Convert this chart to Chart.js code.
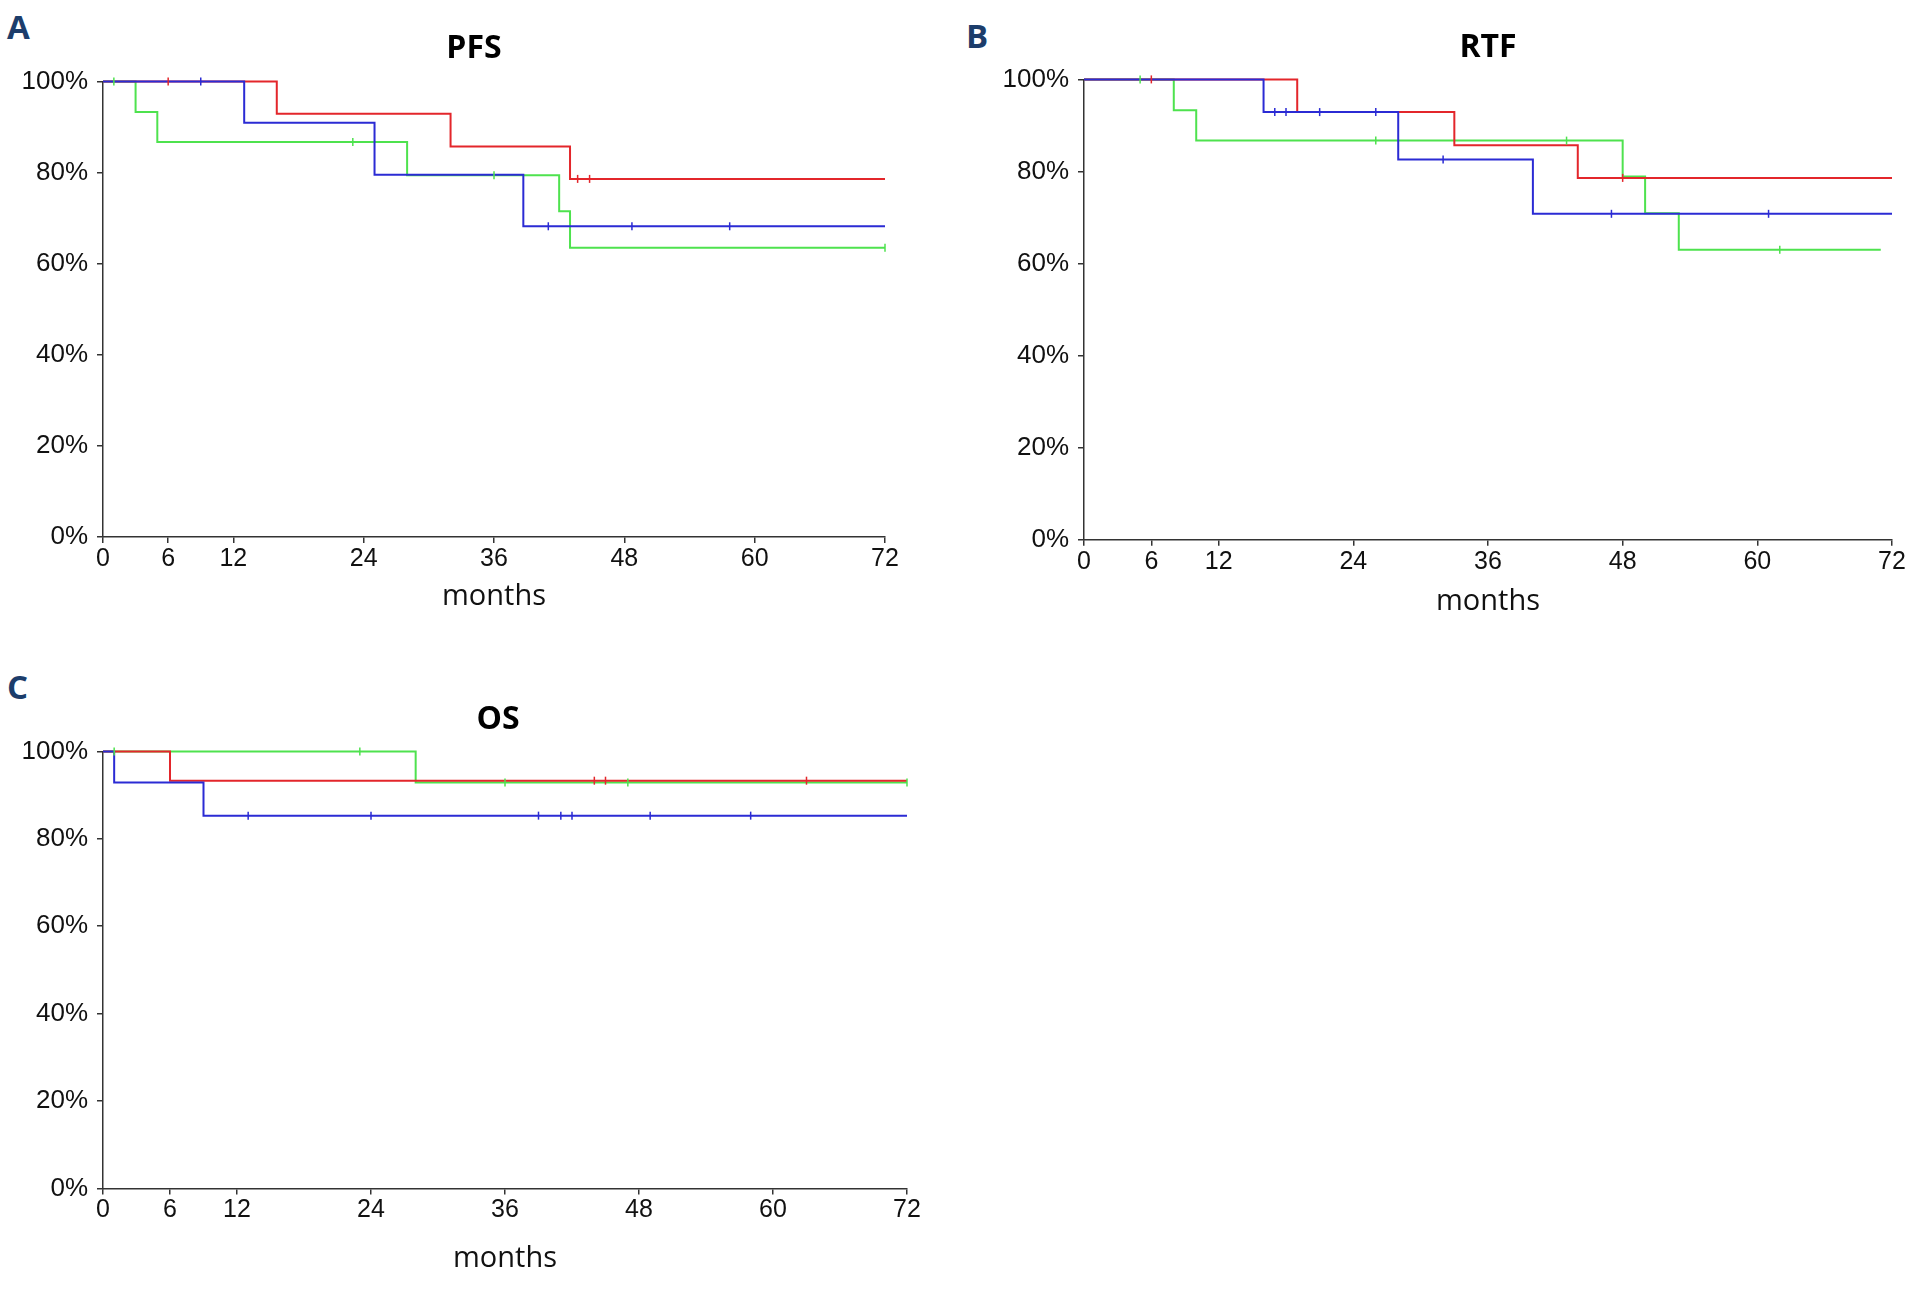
<!DOCTYPE html>
<html>
<head>
<meta charset="utf-8">
<script src="https://cdn.jsdelivr.net/npm/chart.js@4.4.1/dist/chart.umd.min.js"></script>
<style>
  body { margin: 0; background: #fff; width: 1916px; height: 1292px; overflow: hidden; position: relative; }
  .panel { position: absolute; }
  .tag { position: absolute; font: 700 33px/1 "Open Sans", sans-serif; color: #1c3d6b; }
</style>
</head>
<body>
<div class="tag" style="left:7px;top:10px">A</div>
<div class="tag" style="left:966px;top:19px">B</div>
<div class="tag" style="left:7px;top:670px">C</div>

<div class="panel" style="left:0;top:0;width:948px;height:620px"><canvas id="chart-pfs"></canvas></div>
<div class="panel" style="left:960px;top:0;width:956px;height:630px"><canvas id="chart-rtf"></canvas></div>
<div class="panel" style="left:0;top:660px;width:996px;height:632px"><canvas id="chart-os"></canvas></div>

<script>
// Kaplan-Meier curves: PFS, RTF, OS (three groups each)
const xTicks = [0, 6, 12, 24, 36, 48, 60, 72];
const yTicks = [0, 20, 40, 60, 80, 100];

// A - PFS
const pfsRedTimes = [0, 16, 32, 43, 72];
const pfsRedSurv = [100, 92.9, 85.7, 78.6, 78.6];
const pfsRedCensored = [6, 43.7, 44.8];
const pfsBlueTimes = [0, 13, 25, 38.7, 72];
const pfsBlueSurv = [100, 90.9, 79.5, 68.2, 68.2];
const pfsBlueCensored = [9, 41, 48.7, 57.7];
const pfsGreenTimes = [0, 3, 5, 28, 42, 43, 72];
const pfsGreenSurv = [100, 93.3, 86.7, 79.4, 71.5, 63.5, 63.5];
const pfsGreenCensored = [1, 23, 36, 72];

// B - RTF
const rtfRedTimes = [0, 19, 33, 44, 72];
const rtfRedSurv = [100, 92.9, 85.7, 78.6, 78.6];
const rtfRedCensored = [6, 48];
const rtfBlueTimes = [0, 16, 28, 40, 72];
const rtfBlueSurv = [100, 92.9, 82.6, 70.8, 70.8];
const rtfBlueCensored = [17, 18, 21, 26, 32, 47, 61];
const rtfGreenTimes = [0, 8, 10, 48, 50, 53, 71];
const rtfGreenSurv = [100, 93.3, 86.7, 78.9, 70.9, 63.0, 63.0];
const rtfGreenCensored = [5, 26, 43, 62];

// C - OS
const osRedTimes = [0, 6, 72];
const osRedSurv = [100, 93.3, 93.3];
const osRedCensored = [44, 45, 63];
const osBlueTimes = [0, 1, 9, 72];
const osBlueSurv = [100, 92.9, 85.3, 85.3];
const osBlueCensored = [13, 24, 39, 41, 42, 49, 58];
const osGreenTimes = [0, 28, 72];
const osGreenSurv = [100, 92.9, 92.9];
const osGreenCensored = [1, 23, 36, 47, 72];

const RED = '#e3262b';
const BLUE = '#2b2bd4';
const GREEN = '#4ee24e';

function stepPoints(times, surv) {
  return times.map((t, i) => ({ x: t, y: surv[i] }));
}

// survival level in force at time t (step lookup)
function levelAt(times, surv, t) {
  let s = surv[0];
  times.forEach((ti, i) => { if (ti <= t) s = surv[i]; });
  return s;
}

function curve(color, times, surv) {
  return {
    data: stepPoints(times, surv),
    borderColor: color,
    borderWidth: 2,
    stepped: 'before',
    pointRadius: 0,
    fill: false,
    clip: false
  };
}

function marks(color, times, surv, cens) {
  return {
    data: cens.map(t => ({ x: t, y: levelAt(times, surv, t) })),
    showLine: false,
    pointStyle: 'line',
    rotation: 90,
    pointRadius: 4,
    pointBorderWidth: 1.5,
    borderColor: color,
    pointBorderColor: color,
    clip: false
  };
}

function makeChart(id, title, datasets, o) {
  const axisColor = '#333';
  return new Chart(document.getElementById(id).getContext('2d'), {
    type: 'line',
    data: { datasets },
    options: {
      responsive: true,
      maintainAspectRatio: false,
      animation: false,
      devicePixelRatio: 1,
      layout: { padding: 0 },
      plugins: {
        legend: { display: false },
        tooltip: { enabled: false },
        title: {
          display: true,
          text: title,
          fullSize: o.titleFull,
          color: '#000',
          font: { family: 'Open Sans', size: 32, weight: 'bold', lineHeight: 1.2 },
          padding: { top: o.titleTop, bottom: o.titleBottom }
        }
      },
      scales: {
        x: {
          type: 'linear',
          min: 0,
          max: 72,
          afterBuildTicks: s => { s.ticks = xTicks.map(v => ({ value: v })); },
          afterFit: s => { s.height = o.xHeight; s.paddingRight = o.padRight; },
          border: { color: axisColor, width: 1.5 },
          grid: { drawOnChartArea: false, tickLength: 6, color: axisColor, lineWidth: 1.5 },
          ticks: { color: '#111', font: { family: 'Liberation Sans', size: 25 }, padding: 1, maxRotation: 0, autoSkip: false },
          title: {
            display: true,
            text: 'months',
            color: '#111',
            font: { family: 'Open Sans', size: 29, lineHeight: 1.2 },
            padding: { top: 0, bottom: o.monthsBottom }
          }
        },
        y: {
          min: 0,
          max: 100,
          afterBuildTicks: s => { s.ticks = yTicks.map(v => ({ value: v })); },
          afterFit: s => { s.width = o.yWidth; },
          border: { color: axisColor, width: 1.5 },
          grid: { drawOnChartArea: false, tickLength: 6, color: axisColor, lineWidth: 1.5 },
          ticks: { color: '#111', font: { family: 'Liberation Sans', size: 26 }, padding: 9, callback: v => v + '%' }
        }
      }
    }
  });
}

makeChart('chart-pfs', 'PFS', [
  marks(BLUE, pfsBlueTimes, pfsBlueSurv, pfsBlueCensored),
  marks(RED, pfsRedTimes, pfsRedSurv, pfsRedCensored),
  marks(GREEN, pfsGreenTimes, pfsGreenSurv, pfsGreenCensored),
  curve(BLUE, pfsBlueTimes, pfsBlueSurv),
  curve(RED, pfsRedTimes, pfsRedSurv),
  curve(GREEN, pfsGreenTimes, pfsGreenSurv)
], { titleFull: true, padRight: 63, yWidth: 103, xHeight: 83, titleTop: 30, titleBottom: 13, monthsBottom: 5.6 });

makeChart('chart-rtf', 'RTF', [
  marks(BLUE, rtfBlueTimes, rtfBlueSurv, rtfBlueCensored),
  marks(RED, rtfRedTimes, rtfRedSurv, rtfRedCensored),
  marks(GREEN, rtfGreenTimes, rtfGreenSurv, rtfGreenCensored),
  curve(BLUE, rtfBlueTimes, rtfBlueSurv),
  curve(RED, rtfRedTimes, rtfRedSurv),
  curve(GREEN, rtfGreenTimes, rtfGreenSurv)
], { titleFull: false, padRight: 24, yWidth: 124, xHeight: 90.3, titleTop: 29, titleBottom: 12, monthsBottom: 11 });

makeChart('chart-os', 'OS', [
  marks(BLUE, osBlueTimes, osBlueSurv, osBlueCensored),
  marks(RED, osRedTimes, osRedSurv, osRedCensored),
  marks(GREEN, osGreenTimes, osGreenSurv, osGreenCensored),
  curve(BLUE, osBlueTimes, osBlueSurv),
  curve(RED, osRedTimes, osRedSurv),
  curve(GREEN, osGreenTimes, osGreenSurv)
], { titleFull: true, padRight: 89, yWidth: 103, xHeight: 103.5, titleTop: 41, titleBottom: 12, monthsBottom: 15.6 });
</script>
</body>
</html>
